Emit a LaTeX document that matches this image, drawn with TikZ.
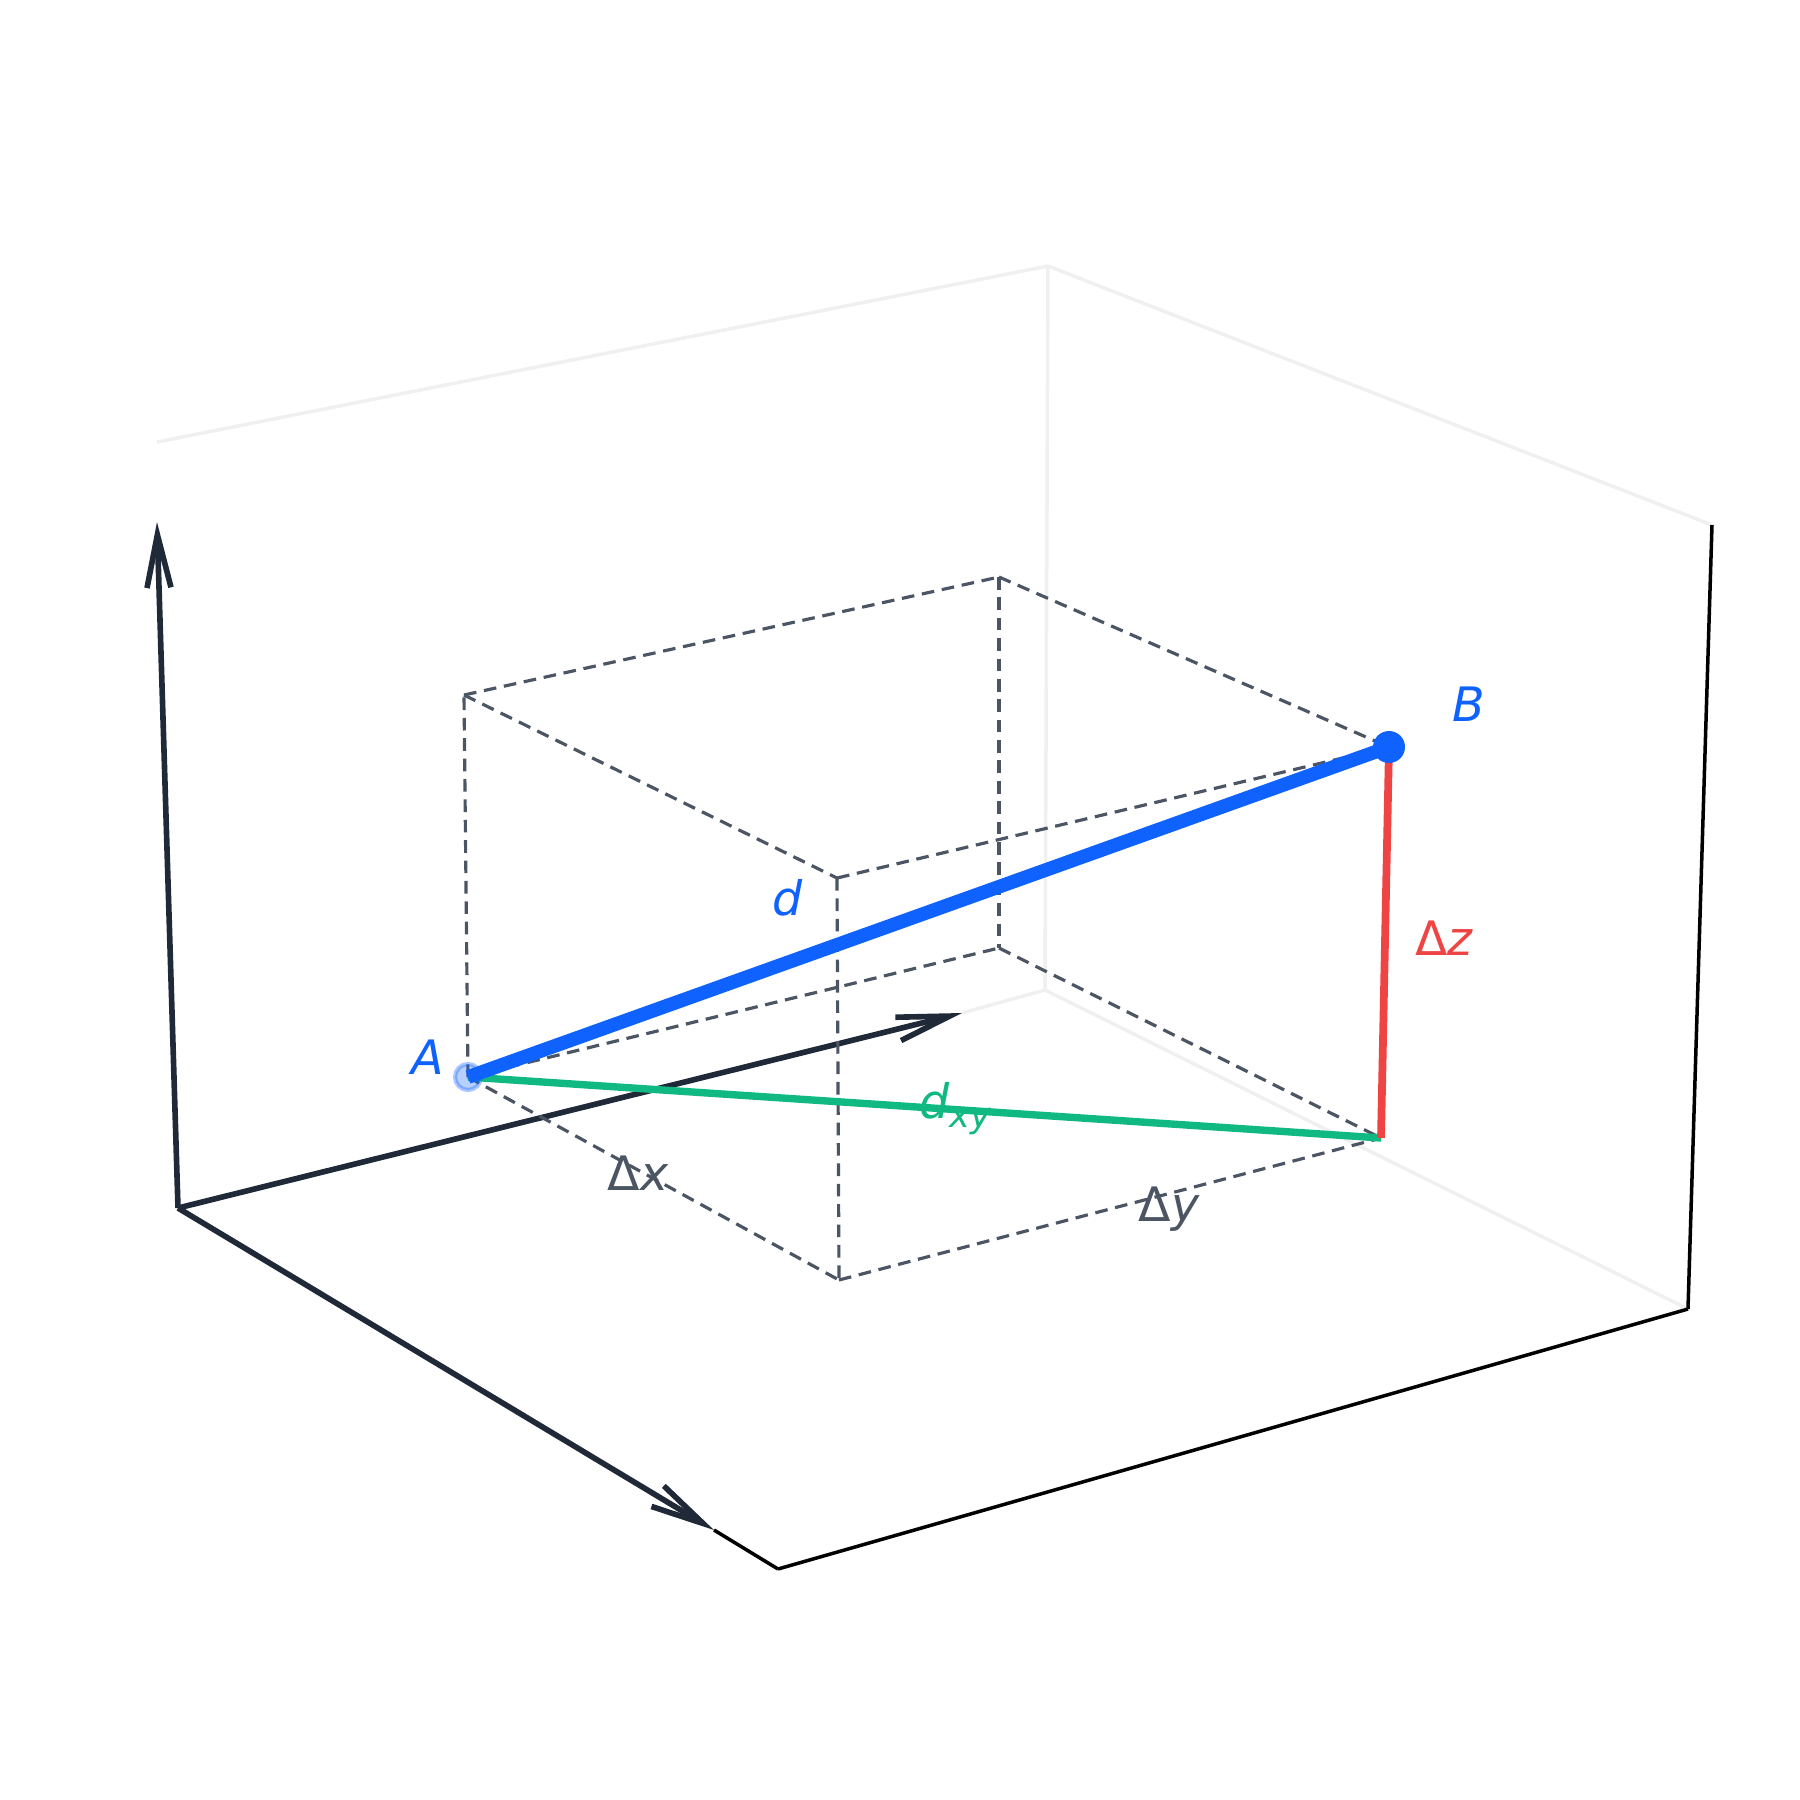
\documentclass[tikz,border=0pt]{standalone}
\usepackage{fontspec}
\setsansfont{DejaVu Sans}
\usepackage{tikz}
\usetikzlibrary{arrows.meta}
\definecolor{axisdark}{HTML}{1F2937}
\definecolor{faintgray}{HTML}{F0F0F0}
\definecolor{dashgray}{HTML}{4B5563}
\definecolor{dblue}{HTML}{0F62FE}
\definecolor{dgreen}{HTML}{10B981}
\definecolor{dred}{HTML}{EF4444}

\begin{document}
\begin{tikzpicture}[
  axis/.style={draw=axisdark, line width=1.6pt},
  barb/.style={-{Straight Barb[length=5.3mm,width=2.4mm]}},
  frame/.style={draw=black, line width=1pt},
  faint/.style={draw=faintgray, line width=1pt},
  boxedge/.style={draw=dashgray, line width=0.9pt, dash pattern=on 3.6pt off 2.2pt},
  lab/.style={font=\fontsize{13.5}{16}\selectfont\sffamily, inner sep=0pt}
]
\useasboundingbox (0,0) rectangle (18,-18);

% axes frame corners
\coordinate(O)     at (1.78,-12.08);
\coordinate(ztip)  at (1.57,-5.22);
\coordinate(xtip)  at (7.14,-15.30);
\coordinate(xend)  at (7.78,-15.69);
\coordinate(br)    at (16.88,-13.09);
\coordinate(tr)    at (17.12,-5.25);
\coordinate(ytip)  at (9.62,-10.13);
\coordinate(bk)    at (10.45,-9.90);
\coordinate(bktop) at (10.48,-2.66);
\coordinate(tl)    at (1.57,-4.42);

% box corners
\coordinate(A)  at (4.68,-10.77);
\coordinate(P1) at (4.64,-6.95);
\coordinate(P2) at (9.99,-5.77);
\coordinate(P3) at (8.37,-8.78);
\coordinate(B)  at (13.89,-7.47);
\coordinate(P4) at (9.99,-9.48);
\coordinate(P5) at (8.39,-12.80);
\coordinate(C)  at (13.81,-11.38);

% faint back panes
\path [faint]
  (tl)     edge (bktop)
  (bktop)  edge (tr)
  (bktop)  edge (bk)
  (bk)     edge (br)
  (ytip)   edge (bk);

% frame
\path [frame]
  (xtip)   edge (xend)
  (xend)   edge (br)
  (br)     edge (tr);

\path [axis]
  (O)      edge [barb] (ztip)
  (O)      edge [barb] (xtip)
  (O)      edge [barb] (ytip);

% dashed box
\path [boxedge]
  (A)      edge (P1)
  (P1)     edge (P2)
  (P1)     edge (P3)
  (P2)     edge (B)
  (P3)     edge (B)
  (P2)     edge (P4)
  (A)      edge (P4)
  (P4)     edge (C)
  (A)      edge (P5)
  (P3)     edge (P5)
  (P5)     edge (C);

% distances
\draw [dgreen, line width=2.1pt] (A) -- (C);
\draw [dred, line width=2.2pt] (B) -- (C);
\draw [dblue, line width=3.9pt] (A) -- (B);

\fill [dblue, fill opacity=0.3, draw=dblue, draw opacity=0.35, line width=1.2pt] (A) circle (0.13);
\fill [dblue] (B) circle (0.16);

% labels
\node(labA)  at (4.28,-10.57)[lab, text=dblue]    {\itshape A};
\node(labB)  at (14.69,-7.04)[lab, text=dblue]    {\itshape B};
\node(labd)  at (7.88,-8.98)[lab, text=dblue]     {\itshape d};
\node(labdz) at (14.44,-9.38)[lab, text=dred]     {Δ\itshape z};
\node(labdxy) at (9.55,-11.09)[lab, text=dgreen]  {\itshape d\raisebox{-0.35ex}{\fontsize{10}{12}\selectfont xy}};
\node(labdx) at (6.38,-11.73)[lab, text=dashgray] {Δ\itshape x};
\node(labdy) at (11.69,-12.09)[lab, text=dashgray] {Δ\itshape y};

\end{tikzpicture}
\end{document}
